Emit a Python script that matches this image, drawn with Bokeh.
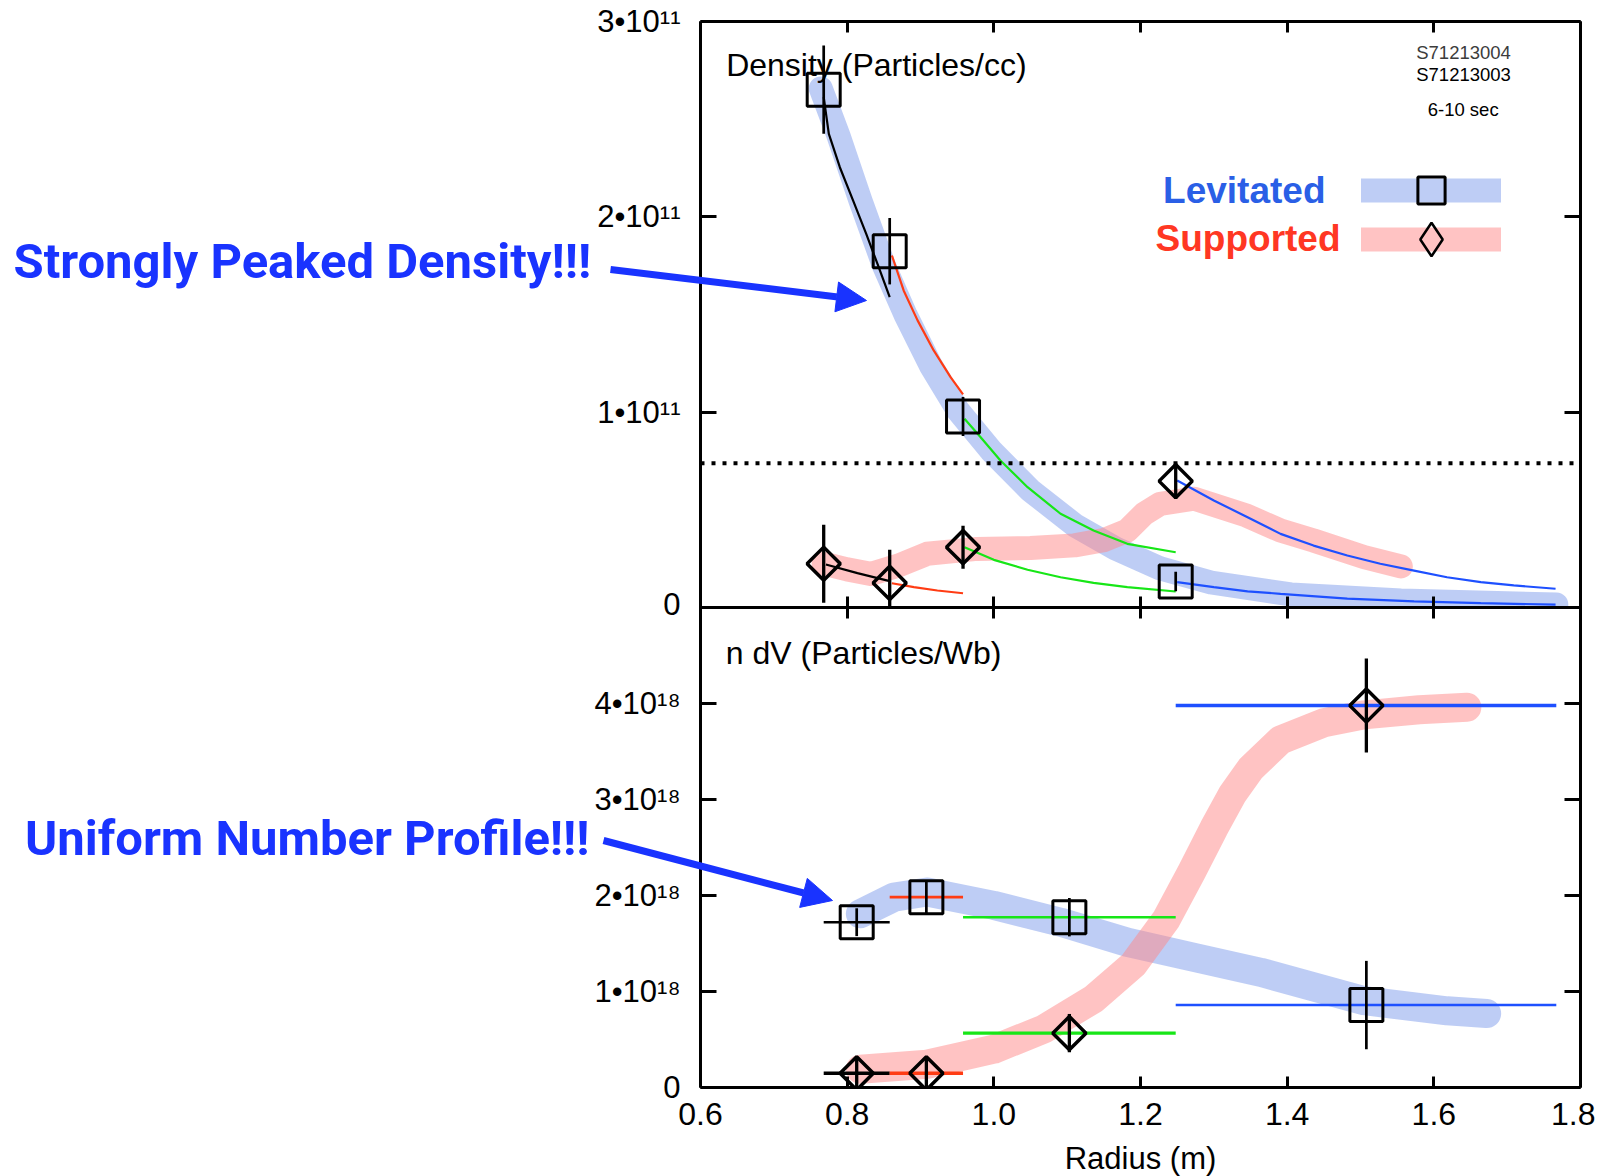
import numpy as np
from bokeh.plotting import figure
from bokeh.models import (Range1d, LinearAxis, FixedTicker, NumeralTickFormatter, Span, Label,
                          Arrow, NormalHead, Legend, LegendItem)
from bokeh.layouts import column
from bokeh.embed import file_html
from bokeh.resources import INLINE

# ---------------- data ----------------
x_ticks = [0.6, 0.8, 1.0, 1.2, 1.4, 1.6, 1.8]
density_ticks = [0.0, 1e11, 2e11, 3e11]
density_tick_labels = ["0", "1•10¹¹", "2•10¹¹", "3•10¹¹"]
ndv_ticks = [0.0, 1e18, 2e18, 3e18, 4e18]
ndv_tick_labels = ["0", "1•10¹⁸", "2•10¹⁸", "3•10¹⁸", "4•10¹⁸"]

radius_edges = [0.768, 0.858, 0.958, 1.248, 1.767]
segment_colors = ["#000000", "#ff3c14", "#17e617", "#1e50ff"]

# --- density panel (particles/cc)
density_radius = [0.768, 0.858, 0.958, 1.248]
lev_density = [2.651e11, 1.824e11, 0.978e11, 0.133e11]
lev_density_err = [0.226e11, 0.170e11, 0.100e11, 0.050e11]
sup_density = [0.224e11, 0.126e11, 0.309e11, 0.647e11]
sup_density_err = [0.200e11, 0.170e11, 0.110e11, 0.090e11]

lev_fit_x = [
    [0.768, 0.775, 0.790, 0.808, 0.826, 0.843, 0.858],
    [0.861, 0.877, 0.896, 0.918, 0.941, 0.958],
    [0.960, 0.982, 1.009, 1.046, 1.091, 1.136, 1.182, 1.248],
    [1.250, 1.300, 1.346, 1.391, 1.482, 1.573, 1.664, 1.766],
]
lev_fit_y = [
    [2.613e11, 2.425e11, 2.254e11, 2.084e11, 1.913e11, 1.742e11, 1.589e11],
    [1.802e11, 1.623e11, 1.470e11, 1.316e11, 1.179e11, 1.091e11],
    [0.966e11, 0.872e11, 0.753e11, 0.616e11, 0.480e11, 0.394e11, 0.326e11, 0.283e11],
    [0.130e11, 0.104e11, 0.083e11, 0.070e11, 0.045e11, 0.031e11, 0.022e11, 0.015e11],
]
sup_fit_x = [
    [0.771, 0.814, 0.858],
    [0.861, 0.891, 0.923, 0.958],
    [0.960, 1.000, 1.046, 1.091, 1.136, 1.182, 1.248],
    [1.250, 1.300, 1.346, 1.391, 1.436, 1.482, 1.527, 1.573, 1.618, 1.664, 1.709, 1.766],
]
sup_fit_y = [
    [0.220e11, 0.176e11, 0.135e11],
    [0.124e11, 0.104e11, 0.087e11, 0.073e11],
    [0.309e11, 0.244e11, 0.193e11, 0.155e11, 0.126e11, 0.104e11, 0.082e11],
    [0.650e11, 0.548e11, 0.462e11, 0.377e11, 0.317e11, 0.266e11, 0.224e11, 0.189e11,
     0.155e11, 0.130e11, 0.113e11, 0.096e11],
]
threshold_density = 0.739e11

lev_band_density_x = [0.764, 0.788, 0.818, 0.850, 0.880, 0.914, 0.951, 0.996, 1.050,
                      1.111, 1.166, 1.227, 1.296, 1.405, 1.555, 1.767]
lev_band_density_y = [2.657e11, 2.417e11, 2.084e11, 1.751e11, 1.495e11, 1.239e11, 1.009e11,
                      0.804e11, 0.599e11, 0.420e11, 0.302e11, 0.200e11, 0.128e11, 0.067e11,
                      0.036e11, 0.015e11]
sup_band_density_x = [0.768, 0.800, 0.832, 0.870, 0.909, 0.977, 1.050, 1.110, 1.150, 1.182,
                      1.205, 1.227, 1.273, 1.345, 1.391, 1.436, 1.505, 1.555]
sup_band_density_y = [0.225e11, 0.195e11, 0.172e11, 0.215e11, 0.275e11, 0.300e11, 0.305e11,
                      0.318e11, 0.345e11, 0.394e11, 0.480e11, 0.531e11, 0.557e11, 0.470e11,
                      0.394e11, 0.343e11, 0.258e11, 0.210e11]

# --- n dV panel (particles/Wb)
ndv_radius = [0.813, 0.908, 1.103, 1.508]
lev_ndv = [1.722e18, 1.983e18, 1.774e18, 0.859e18]
lev_ndv_err = [0.145e18, 0.170e18, 0.200e18, 0.460e18]
sup_ndv = [0.148e18, 0.148e18, 0.566e18, 3.979e18]
sup_ndv_err = [0.170e18, 0.170e18, 0.200e18, 0.490e18]

lev_band_ndv_x = [0.818, 0.864, 0.909, 1.000, 1.091, 1.182, 1.273, 1.364, 1.505, 1.618, 1.672]
lev_band_ndv_y = [1.810e18, 1.983e18, 2.036e18, 1.897e18, 1.722e18, 1.513e18, 1.356e18,
                  1.200e18, 0.904e18, 0.799e18, 0.770e18]
sup_band_ndv_x = [0.818, 0.909, 1.000, 1.068, 1.136, 1.190, 1.235, 1.270, 1.300, 1.325,
                  1.350, 1.391, 1.450, 1.505, 1.580, 1.645]
sup_band_ndv_y = [0.190e18, 0.242e18, 0.399e18, 0.608e18, 0.922e18, 1.280e18, 1.750e18,
                  2.250e18, 2.700e18, 3.050e18, 3.320e18, 3.620e18, 3.800e18, 3.882e18,
                  3.935e18, 3.960e18]

# ---------------- styles ----------------
FONT = "Liberation Sans"
CALLOUT_FONT = "Roboto"
LEV_BAND = "#7d9beb"
SUP_BAND = "#ff8787"
ANN_BLUE = "#1933ff"
PAGE_W, PAGE_H = 1595, 1176


def style_axis(ax, ticks, tick_in, tick_out=0, labels=None, font_size="31px", standoff=20):
    ax.ticker = FixedTicker(ticks=ticks)
    ax.axis_line_width = 3
    ax.axis_line_color = "black"
    ax.major_tick_line_width = 3
    ax.major_tick_line_color = "black"
    ax.major_tick_in = tick_in
    ax.major_tick_out = tick_out
    ax.minor_tick_line_color = None
    ax.major_label_text_font = FONT
    if labels is None:          # ticks only, no labels drawn
        ax.major_label_text_font_size = "1px"
        ax.major_label_text_color = None
        ax.major_label_standoff = 0
    else:
        ax.major_label_text_color = "black"
        ax.major_label_text_font_size = font_size
        ax.major_label_standoff = standoff
        if labels != "auto":
            ax.major_label_overrides = dict(zip(ticks, labels))


# ================= top panel: density =================
p1 = figure(frame_width=880, frame_height=586, x_range=Range1d(0.6, 1.8), y_range=Range1d(0, 3e11),
            output_backend="svg", toolbar_location=None,
            min_border_left=700, min_border_right=15, min_border_top=21, min_border_bottom=14,
            outline_line_color=None, background_fill_color="white", border_fill_color="white")
p1.grid.visible = False
style_axis(p1.xaxis[0], x_ticks, 11, 11)
style_axis(p1.yaxis[0], density_ticks, 16, 0, density_tick_labels)
top_ax = LinearAxis()
style_axis(top_ax, x_ticks, 11)
p1.add_layout(top_ax, "above")
right_ax1 = LinearAxis()
style_axis(right_ax1, density_ticks, 16)
p1.add_layout(right_ax1, "right")

# translucent highlight bands
lev_band_r = p1.line(lev_band_density_x, lev_band_density_y, line_color=LEV_BAND, line_alpha=0.5,
                     line_width=24, line_cap="round", line_join="round")
sup_band_r = p1.line(sup_band_density_x, sup_band_density_y, line_color=SUP_BAND, line_alpha=0.5,
                     line_width=24, line_cap="round", line_join="round")

# fit curves
for i in range(4):
    p1.line(lev_fit_x[i], lev_fit_y[i], line_color=segment_colors[i], line_width=2.2)
    p1.line(sup_fit_x[i], sup_fit_y[i], line_color=segment_colors[i], line_width=2.2)

# error bars
p1.segment(x0=density_radius, x1=density_radius,
           y0=[v - e for v, e in zip(lev_density, lev_density_err)],
           y1=[v + e for v, e in zip(lev_density, lev_density_err)],
           line_color="black", line_width=2.7)
p1.segment(x0=density_radius, x1=density_radius,
           y0=[v - e for v, e in zip(sup_density, sup_density_err)],
           y1=[v + e for v, e in zip(sup_density, sup_density_err)],
           line_color="black", line_width=3.3)

# markers
lev_sq_r = p1.scatter(density_radius, lev_density, marker="square", size=33, fill_color=None,
                      line_color="black", line_width=3)
p1.scatter(density_radius, sup_density, marker="square", angle=np.pi / 4, size=23.5,
           fill_color=None, line_color="black", line_width=3.5)
# diamond symbol used by the legend only
sup_di_legend_r = p1.scatter(density_radius, sup_density, marker="diamond", fill_color=None,
                             line_color="black", line_width=2.5, visible=False)

p1.add_layout(Span(location=threshold_density, dimension="width", line_color="black",
                   line_width=4, line_dash="4 7"))

p1.add_layout(Label(x=0.635, y=2.777e11, text="Density (Particles/cc)", text_font=FONT,
                    text_font_size="32px", text_color="black", text_baseline="middle"))
p1.add_layout(Label(x=1.6405, y=2.842e11, text="S71213004", text_font=FONT, text_font_size="18.5px",
                    text_color="#3c3c3c", text_align="center", text_baseline="middle"))
p1.add_layout(Label(x=1.6405, y=2.731e11, text="S71213003", text_font=FONT, text_font_size="18.5px",
                    text_color="black", text_align="center", text_baseline="middle"))
p1.add_layout(Label(x=1.640, y=2.552e11, text="6-10 sec", text_font=FONT, text_font_size="18.5px",
                    text_color="black", text_align="center", text_baseline="middle"))

# legend: series name on the left, band + symbol on the right
p1.add_layout(Label(x=1.4523, y=2.135e11, text="Levitated", text_font=FONT, text_font_size="37px",
                    text_font_style="bold", text_color="#2a5fe6", text_align="right",
                    text_baseline="middle"))
p1.add_layout(Label(x=1.4728, y=1.890e11, text="Supported", text_font=FONT, text_font_size="37px",
                    text_font_style="bold", text_color="#ff3723", text_align="right",
                    text_baseline="middle"))
for item, gh, loc in [(LegendItem(label=" ", renderers=[lev_band_r, lev_sq_r]), 68, (661, 383)),
                      (LegendItem(label=" ", renderers=[sup_band_r, sup_di_legend_r]), 84, (661, 326))]:
    lg = Legend(items=[item], location=loc, glyph_width=140, glyph_height=gh, padding=0, margin=0,
                spacing=0, label_width=0, label_standoff=0, label_height=0,
                label_text_font_size="1px", label_text_color=None,
                border_line_color=None, background_fill_alpha=0, inactive_fill_alpha=0)
    p1.add_layout(lg)

# ================= bottom panel: n dV =================
p2 = figure(frame_width=880, frame_height=480, x_range=p1.x_range, y_range=Range1d(0, 5e18),
            output_backend="svg", toolbar_location=None,
            min_border_left=700, min_border_right=15, min_border_top=0, min_border_bottom=0,
            outline_line_color=None, background_fill_color=None, border_fill_color=None,
            margin=(-14, 0, 0, 0))
p2.grid.visible = False
style_axis(p2.xaxis[0], x_ticks, 11, 0, "auto", "32px", 15)
p2.xaxis[0].formatter = NumeralTickFormatter(format="0.0")
p2.xaxis[0].axis_label = "Radius (m)"
p2.xaxis[0].axis_label_text_font = FONT
p2.xaxis[0].axis_label_text_font_size = "31px"
p2.xaxis[0].axis_label_text_font_style = "normal"
p2.xaxis[0].axis_label_text_color = "black"
p2.xaxis[0].axis_label_standoff = 13
style_axis(p2.yaxis[0], ndv_ticks, 16, 0, ndv_tick_labels)
right_ax2 = LinearAxis()
style_axis(right_ax2, ndv_ticks, 16)
p2.add_layout(right_ax2, "right")

p2.line(lev_band_ndv_x, lev_band_ndv_y, line_color=LEV_BAND, line_alpha=0.5,
        line_width=29, line_cap="round", line_join="round")
p2.line(sup_band_ndv_x, sup_band_ndv_y, line_color=SUP_BAND, line_alpha=0.5,
        line_width=29, line_cap="round", line_join="round")

# radial extent bars
p2.segment(x0=radius_edges[:-1], x1=radius_edges[1:], y0=lev_ndv, y1=lev_ndv,
           line_color=segment_colors, line_width=2.6)
p2.segment(x0=radius_edges[:-1], x1=radius_edges[1:], y0=sup_ndv, y1=sup_ndv,
           line_color=segment_colors, line_width=3.4)
# error bars
p2.segment(x0=ndv_radius, x1=ndv_radius,
           y0=[v - e for v, e in zip(lev_ndv, lev_ndv_err)],
           y1=[v + e for v, e in zip(lev_ndv, lev_ndv_err)],
           line_color="black", line_width=2.7)
p2.segment(x0=ndv_radius, x1=ndv_radius,
           y0=[v - e for v, e in zip(sup_ndv, sup_ndv_err)],
           y1=[v + e for v, e in zip(sup_ndv, sup_ndv_err)],
           line_color="black", line_width=3.3)
p2.scatter(ndv_radius, lev_ndv, marker="square", size=33, fill_color=None,
           line_color="black", line_width=3)
p2.scatter(ndv_radius, sup_ndv, marker="square", angle=np.pi / 4, size=23.5,
           fill_color=None, line_color="black", line_width=3.5)

p2.add_layout(Label(x=0.6346, y=4.527e18, text="n dV (Particles/Wb)", text_font=FONT,
                    text_font_size="32px", text_color="black", text_baseline="middle"))

# ================= transparent overlay (page pixels) for the call-outs in the left margin =================
p3 = figure(width=PAGE_W, height=PAGE_H, x_range=Range1d(0, PAGE_W), y_range=Range1d(PAGE_H, 0),
            output_backend="svg", toolbar_location=None, x_axis_location=None, y_axis_location=None,
            min_border=0, outline_line_color=None, background_fill_color=None,
            border_fill_color=None, margin=(-PAGE_H, 0, 0, 0), frame_align=False)
p3.grid.visible = False
p3.add_layout(Label(x=13, y=259, text="Strongly Peaked Density!!!", text_font=CALLOUT_FONT,
                    text_font_size="49px", text_font_style="bold", text_color=ANN_BLUE,
                    text_baseline="middle"))
p3.add_layout(Arrow(end=NormalHead(size=30, fill_color=ANN_BLUE, line_color=ANN_BLUE, line_width=1),
                    x_start=610, y_start=267, x_end=866, y_end=298,
                    line_color=ANN_BLUE, line_width=7))
p3.add_layout(Label(x=24.5, y=836, text="Uniform Number Profile!!!", text_font=CALLOUT_FONT,
                    text_font_size="49px", text_font_style="bold", text_color=ANN_BLUE,
                    text_baseline="middle"))
p3.add_layout(Arrow(end=NormalHead(size=30, fill_color=ANN_BLUE, line_color=ANN_BLUE, line_width=1),
                    x_start=603, y_start=838, x_end=832, y_end=898,
                    line_color=ANN_BLUE, line_width=7))

layout = column(p1, p2, p3)
open("out.html", "w").write(file_html(layout, INLINE))
